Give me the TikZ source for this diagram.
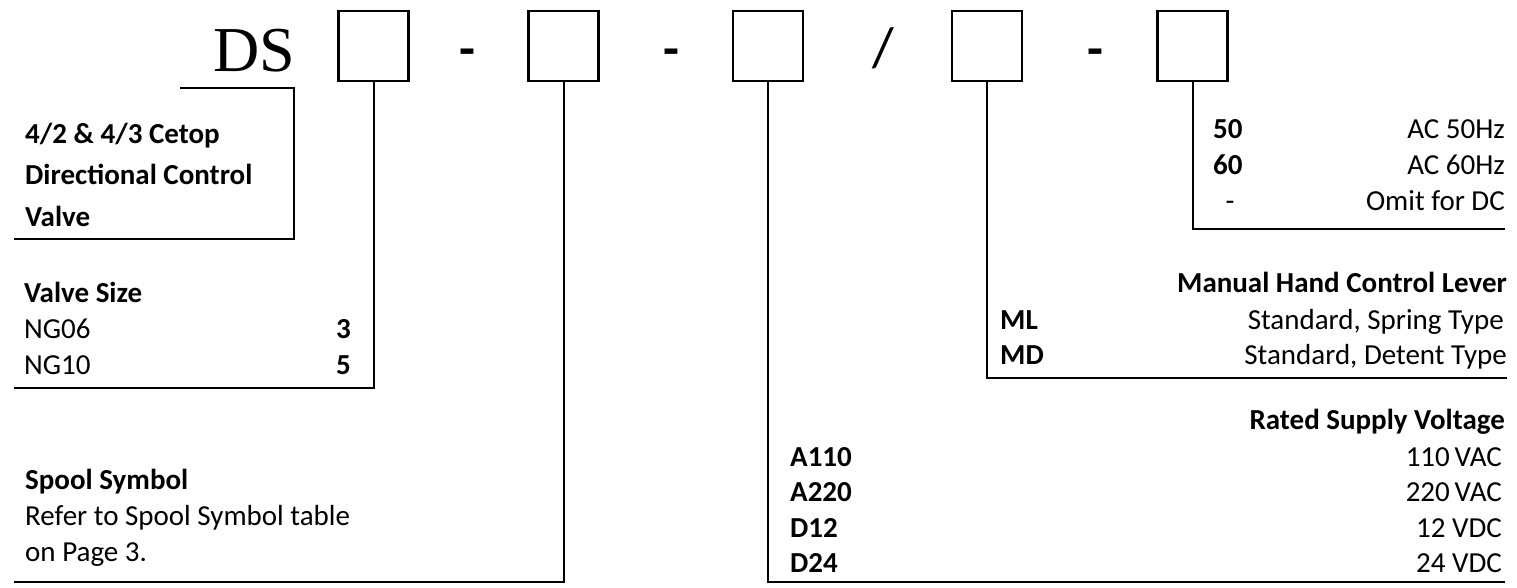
\documentclass[tikz,border=0pt]{standalone}
\usepackage{fontspec}
\setmainfont{Carlito}
\newfontfamily\dsfont{Liberation Serif}
\begin{document}
\begin{tikzpicture}[x=1pt,y=-1pt,
  codebox/.style={draw,line width=2.6pt,minimum width=70pt,minimum height=70pt,inner sep=0pt},
  lead/.style={line width=2pt},
  rule/.style={line width=2.6pt},
  txt/.style={inner sep=0pt,font=\fontsize{29}{33}\selectfont},
  btxt/.style={inner sep=0pt,font=\fontsize{29}{33}\selectfont\bfseries},
  sep/.style={inner sep=0pt,font=\fontsize{52}{56}\selectfont\bfseries}]
\useasboundingbox (0,0) rectangle (1517,588);
% code line
\node[inner sep=0pt,anchor=base,font=\fontsize{64}{66}\dsfont] (ds) at (254,72) {DS};
\node[codebox] (b1) at (373.5,46) {};
\node[codebox] (b2) at (563.5,46) {};
\node[codebox] (b3) at (768,46) {};
\node[codebox] (b4) at (987,46) {};
\node[codebox] (b5) at (1192.5,46) {};
\node[sep,anchor=north] (d1) at (467,49) {-};
\node[sep,anchor=north] (d2) at (671,49) {-};
\node[sep,font=\fontsize{56}{60}\selectfont] (sl) at (883,48.5) {/};
\node[sep,anchor=north] (d3) at (1095,49) {-};
% DS bracket
\coordinate (dsa) at (180,88);
\coordinate (dsb) at (294,88);
\coordinate (dsc) at (294,239);
\coordinate (dsd) at (14,239);
\draw[rule] (dsa) -- (dsb) -- (dsc) -- (dsd);
\node[btxt,anchor=base west] (t1) at (25,144) {4/2 \& 4/3 Cetop};
\node[btxt,anchor=base west] (t2) at (25,185) {Directional Control};
\node[btxt,anchor=base west] (t3) at (25,226) {Valve};
% Valve size
\coordinate (e1) at (14,388);
\draw[lead] (b1.south) |- (e1);
\node[btxt,anchor=base west] (vs) at (24,302) {Valve Size};
\node[txt,anchor=base west] (ng06) at (24,338) {NG06};
\node[txt,anchor=base west] (ng10) at (24,374) {NG10};
\node[btxt,anchor=base east] (v3) at (351,338) {3};
\node[btxt,anchor=base east] (v5) at (351,374) {5};
% Spool symbol
\coordinate (e2) at (14,582);
\draw[lead] (b2.south) |- (e2);
\node[btxt,anchor=base west] (ss) at (25,489) {Spool Symbol};
\node[txt,anchor=base west] (ss2) at (25,525) {Refer to Spool Symbol table};
\node[txt,anchor=base west] (ss3) at (25,561) {on Page 3.};
% Voltage
\coordinate (e3) at (1505,582);
\draw[lead] (b3.south) |- (e3);
\node[btxt,anchor=base east] (rv) at (1505,429) {Rated Supply Voltage};
\node[btxt,anchor=base west] (a110) at (790,466) {A110};
\node[btxt,anchor=base west] (a220) at (790,501) {A220};
\node[btxt,anchor=base west] (d12) at (790,537) {D12};
\node[btxt,anchor=base west] (d24) at (790,572) {D24};
\node[txt,anchor=base east] (a110v) at (1502,466) {110\,VAC};
\node[txt,anchor=base east] (a220v) at (1502,501) {220\,VAC};
\node[txt,anchor=base east] (d12v) at (1502,537) {12 VDC};
\node[txt,anchor=base east] (d24v) at (1502,572) {24 VDC};
% Manual lever
\coordinate (e4) at (1507,378);
\draw[lead] (b4.south) |- (e4);
\node[btxt,anchor=base east] (mh) at (1507,292) {Manual Hand Control Lever};
\node[btxt,anchor=base west] (ml) at (1000,329) {ML};
\node[btxt,anchor=base west] (md) at (1000,364) {MD};
\node[txt,anchor=base east] (mlv) at (1504,329) {Standard, Spring Type};
\node[txt,anchor=base east] (mdv) at (1507,364) {Standard, Detent Type};
% Frequency
\coordinate (e5) at (1505,229);
\draw[lead] (b5.south) |- (e5);
\node[btxt,anchor=base west] (f50) at (1213,139) {50};
\node[btxt,anchor=base west] (f60) at (1213,175) {60};
\node[txt,anchor=base] (fdc) at (1230,211) {-};
\node[txt,anchor=base east] (f50v) at (1505,139) {AC 50Hz};
\node[txt,anchor=base east] (f60v) at (1505,175) {AC 60Hz};
\node[txt,anchor=base east] (fdcv) at (1505,211) {Omit for DC};
\end{tikzpicture}
\end{document}
